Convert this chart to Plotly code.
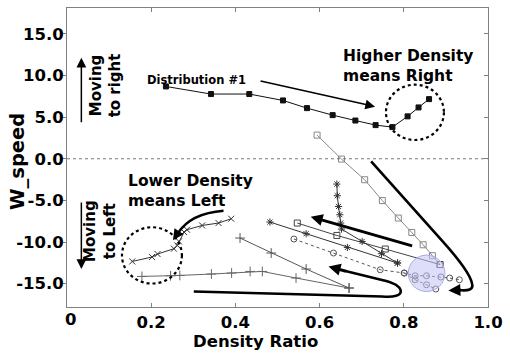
import plotly.graph_objects as go

# ---------------- data ----------------
dist1_x = [0.235, 0.342, 0.433, 0.513, 0.570, 0.631, 0.685, 0.733, 0.773, 0.809, 0.835, 0.860]
dist1_y = [8.68, 7.77, 7.77, 7.00, 6.08, 5.24, 4.59, 4.04, 3.80, 5.09, 6.16, 7.16]

sq1_x = [0.594, 0.652, 0.707, 0.749, 0.787, 0.819, 0.846, 0.868, 0.886]
sq1_y = [2.84, -0.04, -2.52, -5.02, -7.12, -8.85, -10.33, -11.64, -12.70]

sq2_x = [0.547, 0.641, 0.756, 0.886]
sq2_y = [-7.72, -9.21, -10.84, -12.70]

ast1_x = [0.641, 0.642, 0.645, 0.648, 0.650, 0.652, 0.701, 0.747, 0.785]
ast1_y = [-3.04, -4.44, -5.73, -6.72, -7.72, -8.44, -9.93, -11.40, -12.52]

ast2_x = [0.482, 0.568, 0.666, 0.785]
ast2_y = [-7.60, -9.00, -10.65, -12.52]

xs_x = [0.390, 0.360, 0.321, 0.285, 0.278, 0.266, 0.262, 0.254, 0.215, 0.202, 0.155]
xs_y = [-7.20, -7.72, -8.01, -8.52, -8.80, -9.93, -10.41, -10.80, -11.44, -11.80, -12.33]

circ_x = [0.539, 0.633, 0.744, 0.801, 0.827, 0.854, 0.888, 0.909, 0.932]
circ_y = [-9.64, -11.32, -13.33, -13.72, -14.05, -14.05, -14.20, -14.32, -14.53]

circb_x = [0.801, 0.827, 0.854, 0.876]
circb_y = [-13.72, -14.53, -15.13, -15.64]

plusA_x = [0.178, 0.246, 0.268, 0.343, 0.391, 0.435, 0.464, 0.544, 0.670]
plusA_y = [-14.13, -14.05, -14.01, -13.84, -13.72, -13.53, -13.53, -14.32, -15.52]

plusB_x = [0.411, 0.485, 0.568, 0.670]
plusB_y = [-9.52, -11.32, -13.24, -15.52]

x_tickvals = [0.2, 0.4, 0.6, 0.8, 1.0]
x_ticktext = ["0.2", "0.4", "0.6", "0.8", "1.0"]
y_tickvals = [15, 10, 5, 0, -5, -10, -15]
y_ticktext = ["15.0", "10.0", "5.0", "0.0", "-5.0", "-10.0", "-15.0"]

# ---------------- geometry helpers (pixel -> data / paper) ----------------
X0, XS = 67.0, 425.0
Y0, YS = 158.3, 8.357
PT, PH = 7.0, 300.0


def dx(px):
    return (px - X0) / XS


def dy(py):
    return (Y0 - py) / YS


def pyp(py):
    return (PT + PH - py) / PH


def path(cmds):
    out = []
    for c in cmds:
        op = c[0]
        pts = " ".join(f"{dx(p[0]):.4f},{dy(p[1]):.4f}" for p in c[1:])
        out.append(f"{op} {pts}")
    return " ".join(out)


FONT = "DejaVu Sans"

fig = go.Figure()


def add(x, y, symbol, color, size, dash="solid", lw=1, fill=None):
    fig.add_trace(go.Scatter(
        x=x, y=y, mode="lines+markers",
        line=dict(color=color, width=lw, dash=dash),
        marker=dict(symbol=symbol, size=size, color=fill or color,
                    line=dict(color=color, width=1)),
        showlegend=False, hoverinfo="x+y"))


add(dist1_x, dist1_y, "square", "#111111", 5)
add(sq1_x, sq1_y, "square-open", "#888888", 6)
add(sq2_x, sq2_y, "square-open", "#444444", 6)
add(ast1_x, ast1_y, "asterisk-open", "#333333", 6)
add(ast2_x, ast2_y, "asterisk-open", "#333333", 6)
add(xs_x, xs_y, "x-thin-open", "#333333", 6)
add(circ_x, circ_y, "circle-open", "#555555", 6, dash="dot")
add(circb_x, circb_y, "circle-open", "#555555", 6, dash="dot")
add(plusA_x, plusA_y, "cross-thin-open", "#666666", 7)
add(plusB_x, plusB_y, "cross-thin-open", "#555555", 7)

shapes = []
shapes.append(dict(type="line", xref="x", yref="y", x0=0, x1=1, y0=0, y1=0,
                   line=dict(color="#777777", width=1, dash="dot")))
shapes.append(dict(type="circle", xref="x", yref="y", x0=dx(389), x1=dx(447.5),
                   y0=dy(139.5), y1=dy(84), line=dict(color="black", width=2.2, dash="dot")))
shapes.append(dict(type="circle", xref="x", yref="y", x0=dx(122.5), x1=dx(183),
                   y0=dy(283.5), y1=dy(227), line=dict(color="black", width=2.2, dash="dot")))
shapes.append(dict(type="circle", xref="x", yref="y", x0=dx(411.5), x1=dx(448.5),
                   y0=dy(291.5), y1=dy(255), layer="above",
                   fillcolor="rgba(195,195,245,0.55)", line=dict(color="#a8a8e8", width=1)))
shapes.append(dict(type="path", xref="x", yref="y",
                   path=path([("M", (374, 161)), ("L", (446, 241)),
                              ("Q", (474, 272), (476, 284)),
                              ("Q", (478, 292), (462, 290))]),
                   line=dict(color="black", width=2.6)))
shapes.append(dict(type="path", xref="x", yref="y",
                   path=path([("M", (195, 291.5)), ("L", (385, 296.5)),
                              ("Q", (404, 298), (404, 291)),
                              ("Q", (403, 284), (385, 280)),
                              ("L", (348, 271))]),
                   line=dict(color="black", width=2.6)))
shapes.append(dict(type="path", xref="x", yref="y",
                   path=path([("M", (225, 210.5)), ("Q", (192, 213), (179, 233))]),
                   line=dict(color="black", width=2.4)))

annotations = []


def txt(text, px, py, size, xanchor="center", yanchor="middle", angle=0, align="center"):
    annotations.append(dict(text=text, x=dx(px), y=pyp(py), xref="paper", yref="paper",
                            showarrow=False, xanchor=xanchor, yanchor=yanchor,
                            textangle=angle, align=align,
                            font=dict(family=FONT, size=size, color="black", weight="bold")))


def arrow(hx, hy, tx, ty, width, size=1.0, head=2):
    annotations.append(dict(text="", x=dx(hx), y=dy(hy), xref="x", yref="y",
                            ax=tx - hx, ay=ty - hy, axref="pixel", ayref="pixel",
                            showarrow=True, arrowhead=head, arrowsize=size,
                            arrowwidth=width, arrowcolor="black", standoff=0))


txt("Higher Density<br>means Right", 344, 65, 15.5, xanchor="left", align="left")
txt("Lower Density<br>means Left", 127, 191, 15.5, xanchor="left", align="left")
txt("Distribution #1", 146, 79, 11.5, xanchor="left")
txt("Moving<br>to right", 106, 85, 15, angle=-90)
txt("Moving<br>to Left", 101, 231, 15, angle=-90)
txt("W_speed", 17, 161, 19.5, angle=-90)
txt("Density Ratio", 257, 342, 16.5)
txt("0", 71, 320, 16.5)

arrow(378, 106, 262, 80, 1.5, 1.3)
arrow(81.5, 57, 81.5, 123, 1.5, 1.3)
arrow(81.5, 269, 81.5, 201, 1.5, 1.3)
arrow(313, 216.5, 416, 246, 3, 0.8)
arrow(452, 290.5, 466, 290, 3, 0.8)
arrow(331, 266.5, 350, 271.5, 3, 0.8)
arrow(174, 240, 180, 231, 2.4, 0.9)

axis_common = dict(showgrid=False, zeroline=False, showline=True, linecolor="#808080",
                   linewidth=1, tickcolor="#808080", ticklen=4,
                   tickfont=dict(family=FONT, size=16.5, color="black", weight="bold"))

fig.update_layout(
    width=510, height=360,
    margin=dict(l=67, r=18, t=7, b=53),
    paper_bgcolor="white", plot_bgcolor="white",
    xaxis=dict(range=[0, 1.0], tickvals=x_tickvals, ticktext=x_ticktext,
               ticks="inside", mirror="ticks", **axis_common),
    yaxis=dict(range=[-17.8, 18.1], tickvals=y_tickvals, ticktext=y_ticktext,
               ticks="outside", mirror=True, ticklabelstandoff=-5, **axis_common),
    yaxis2=dict(range=[-17.8, 18.1], tickvals=y_tickvals, overlaying="y", side="right",
                ticks="inside", showticklabels=False, showgrid=False, zeroline=False,
                showline=False, tickcolor="#808080", ticklen=4),
    shapes=shapes, annotations=annotations,
)
fig.add_trace(go.Scatter(x=[None], y=[None], yaxis="y2", showlegend=False))

fig.write_html("out.html", config={"displayModeBar": False},
               post_script="document.body.style.margin='0';document.body.style.padding='0';")
